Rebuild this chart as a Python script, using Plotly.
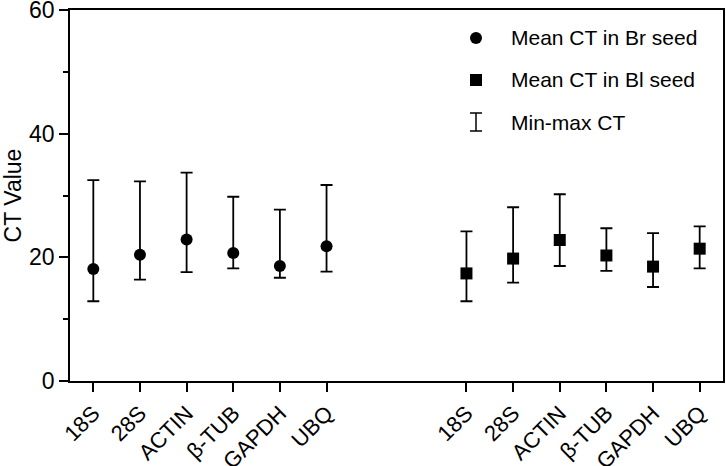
import plotly.graph_objects as go

genes = ["18S", "28S", "ACTIN", "β-TUB", "GAPDH", "UBQ"]

br_mean = [18.1, 20.4, 22.9, 20.7, 18.6, 21.8]
br_min = [12.9, 16.4, 17.6, 18.2, 16.7, 17.7]
br_max = [32.5, 32.3, 33.7, 29.8, 27.7, 31.7]

bl_mean = [17.4, 19.8, 22.8, 20.3, 18.5, 21.4]
bl_min = [12.9, 15.9, 18.6, 17.8, 15.2, 18.2]
bl_max = [24.2, 28.1, 30.2, 24.7, 23.9, 25.0]

y_ticks = [0, 20, 40, 60]

GAP = 2  # empty category slots between the two groups
br_x = list(range(len(genes)))
bl_x = [len(genes) + GAP + i for i in range(len(genes))]

FONT = "Arial, Liberation Sans, sans-serif"

fig = go.Figure()

fig.add_trace(go.Scatter(
    x=br_x, y=br_mean, mode="markers",
    marker=dict(symbol="circle", size=12, color="black"),
    error_y=dict(type="data", symmetric=False,
                 array=[mx - m for mx, m in zip(br_max, br_mean)],
                 arrayminus=[m - mn for m, mn in zip(br_mean, br_min)],
                 width=6, thickness=1.8, color="black"),
    showlegend=False, cliponaxis=False,
))
fig.add_trace(go.Scatter(
    x=bl_x, y=bl_mean, mode="markers",
    marker=dict(symbol="square", size=12, color="black"),
    error_y=dict(type="data", symmetric=False,
                 array=[mx - m for mx, m in zip(bl_max, bl_mean)],
                 arrayminus=[m - mn for m, mn in zip(bl_mean, bl_min)],
                 width=6, thickness=1.8, color="black"),
    showlegend=False, cliponaxis=False,
))

L, R, T, B = 70, 3, 10, 85
W, H = 726, 466
pw, ph = W - L - R, H - T - B

def px(x):
    return (x - L) / pw

def py(y):
    return (H - B - y) / ph

# custom legend
sym_x = px(476)
txt_x = px(509)
rows = [38, 80, 122]
labels = ["Mean CT in Br seed", "Mean CT in Bl seed", "Min-max CT"]
shapes = []
shapes.append(dict(type="circle", xref="paper", yref="paper", xsizemode="pixel", ysizemode="pixel",
                   xanchor=sym_x, yanchor=py(rows[0]), x0=-6, x1=6, y0=-6, y1=6,
                   fillcolor="black", line=dict(width=0)))
shapes.append(dict(type="rect", xref="paper", yref="paper", xsizemode="pixel", ysizemode="pixel",
                   xanchor=sym_x, yanchor=py(rows[1]), x0=-6, x1=6, y0=-6, y1=6,
                   fillcolor="black", line=dict(width=0)))
for (a, b) in [((0, -9), (0, 9)), ((-6, 9), (6, 9)), ((-6, -9), (6, -9))]:
    shapes.append(dict(type="line", xref="paper", yref="paper", xsizemode="pixel", ysizemode="pixel",
                       xanchor=sym_x, yanchor=py(rows[2]), x0=a[0], x1=b[0], y0=a[1], y1=b[1],
                       line=dict(color="black", width=1.5)))

annotations = []
for r, lab in zip(rows, labels):
    annotations.append(dict(x=txt_x, y=py(r), xref="paper", yref="paper", text=lab,
                            showarrow=False, xanchor="left", yanchor="middle",
                            font=dict(family=FONT, size=21, color="black")))

fig.update_layout(
    width=W, height=H,
    margin=dict(l=L, r=R, t=T, b=B, autoexpand=False),
    plot_bgcolor="white", paper_bgcolor="white",
    font=dict(family=FONT, color="black"),
    shapes=shapes, annotations=annotations,
    showlegend=False,
)
fig.update_xaxes(
    range=[-0.5, len(genes) * 2 + GAP - 0.5],
    tickvals=br_x + bl_x, ticktext=genes + genes,
    tickangle=-45, tickfont=dict(size=22), ticklabeloverflow="allow",
    ticks="outside", ticklen=9, tickwidth=1.5, tickcolor="black",
    showline=True, linecolor="black", linewidth=1.5, mirror=True,
    showgrid=False, zeroline=False, automargin=False,
)
fig.update_yaxes(
    range=[0, 60], tickvals=y_ticks,
    tickfont=dict(size=23), ticklabeloverflow="allow",
    ticks="outside", ticklen=9, tickwidth=1.5, tickcolor="black",
    minor=dict(dtick=10, ticks="outside", ticklen=5, tickwidth=1.5, tickcolor="black", showgrid=False),
    showline=True, linecolor="black", linewidth=1.5, mirror=True,
    showgrid=False, zeroline=False, automargin=False,
    title=dict(text="CT Value", font=dict(size=23), standoff=8),
)

fig.write_html("out.html", config={"displayModeBar": False},
               post_script="document.body.style.margin='0';")
